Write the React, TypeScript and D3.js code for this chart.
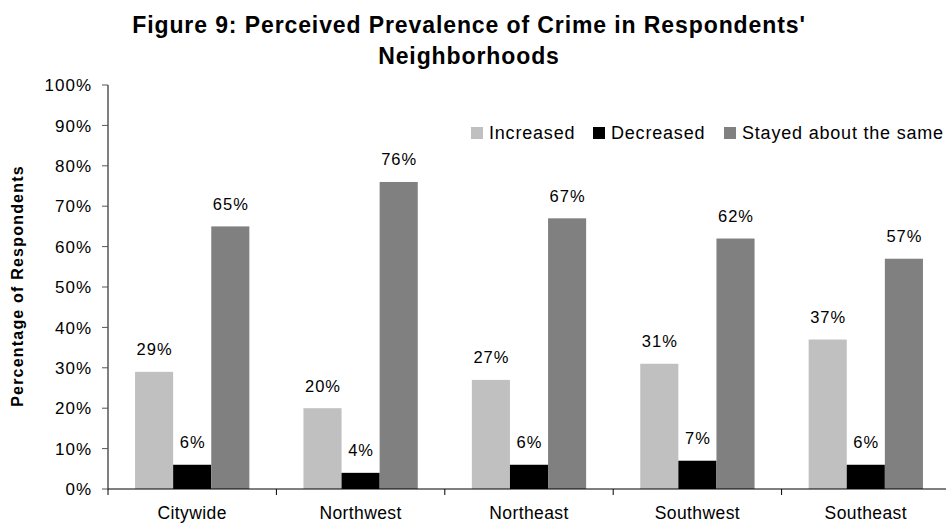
import React from "react";
import * as d3 from "d3";

const categories = ["Citywide", "Northwest", "Northeast", "Southwest", "Southeast"];
const seriesNames = ["Increased", "Decreased", "Stayed about the same"];
const increased = [29, 20, 27, 31, 37];
const decreased = [6, 4, 6, 7, 6];
const stayedSame = [65, 76, 67, 62, 57];
const yTicks = [0, 10, 20, 30, 40, 50, 60, 70, 80, 90, 100];
const titleLines = ["Figure 9: Perceived Prevalence of Crime in Respondents'", "Neighborhoods"];
const yAxisTitle = "Percentage of Respondents";

const seriesValues = [increased, decreased, stayedSame];
const seriesColors = ["#c0c0c0", "#000000", "#808080"];

const W = 946;
const H = 524;
const FONT = "'Liberation Sans', Arial, sans-serif";

export default function App() {
  const left = 108;
  const right = 950;
  const top = 85;
  const bottom = 489;

  const x = d3.scaleBand<string>().domain(categories).range([left, right]).paddingInner(0).paddingOuter(0);
  const xs = d3
    .scaleBand<string>()
    .domain(seriesNames)
    .range([0, x.bandwidth()])
    .paddingInner(0)
    .paddingOuter(0.71);
  const y = d3.scaleLinear().domain([0, 100]).range([bottom, top]);

  const boundaries = categories.map((c) => x(c) as number);
  const legendX = [471, 593, 724];

  return (
    <svg
      width={W}
      height={H}
      viewBox={`0 0 ${W} ${H}`}
      style={{ position: "absolute", left: 0, top: 0, background: "#fff" }}
      fontFamily={FONT}
    >
      {/* title */}
      {titleLines.map((t, i) => (
        <text
          key={t}
          x={469}
          y={33 + i * 31}
          textAnchor="middle"
          fontSize={23}
          fontWeight="bold"
          letterSpacing={0.9}
          fill="#000"
        >
          {t}
        </text>
      ))}

      {/* y axis title */}
      <text
        transform={`translate(23,286) rotate(-90)`}
        textAnchor="middle"
        fontSize={16}
        fontWeight="bold"
        letterSpacing={1.2}
        fill="#000"
      >
        {yAxisTitle}
      </text>

      {/* bars */}
      {seriesNames.map((s, si) =>
        categories.map((c, ci) => {
          const v = seriesValues[si][ci];
          const bx = (x(c) as number) + (xs(s) as number);
          return (
            <rect
              key={s + c}
              x={bx}
              y={y(v)}
              width={xs.bandwidth()}
              height={bottom - y(v)}
              fill={seriesColors[si]}
            />
          );
        })
      )}

      {/* value labels */}
      {seriesNames.map((s, si) =>
        categories.map((c, ci) => {
          const v = seriesValues[si][ci];
          const cx = (x(c) as number) + (xs(s) as number) + xs.bandwidth() / 2;
          return (
            <text
              key={"l" + s + c}
              x={cx + 0.5}
              y={y(v) - 16.5}
              textAnchor="middle"
              fontSize={16.5}
              letterSpacing={1}
              fill="#000"
            >
              {v}%
            </text>
          );
        })
      )}

      {/* y axis */}
      <line x1={left} x2={left} y1={top} y2={bottom} stroke="#000" strokeWidth={1} />
      {yTicks.map((t) => (
        <g key={t}>
          <line x1={left - 6} x2={left} y1={y(t)} y2={y(t)} stroke="#555" strokeWidth={1} />
          <text x={92} y={y(t)} dy="0.36em" textAnchor="end" fontSize={17} letterSpacing={1} fill="#000">
            {t}%
          </text>
        </g>
      ))}

      {/* x axis */}
      <line x1={left} x2={W} y1={bottom} y2={bottom} stroke="#000" strokeWidth={1} />
      {boundaries.map((b, i) => (
        <line key={i} x1={b} x2={b} y1={bottom} y2={bottom + 6} stroke="#000" strokeWidth={1} />
      ))}
      {categories.map((c) => (
        <text
          key={"x" + c}
          x={(x(c) as number) + x.bandwidth() / 2}
          y={519}
          textAnchor="middle"
          fontSize={17.5}
          letterSpacing={0.4}
          fill="#000"
        >
          {c}
        </text>
      ))}

      {/* legend */}
      {seriesNames.map((s, i) => (
        <g key={"lg" + s}>
          <rect x={legendX[i]} y={127} width={12} height={12} fill={seriesColors[i]} />
          <text x={legendX[i] + 18} y={138.5} fontSize={18} letterSpacing={0.8} fill="#000">
            {s}
          </text>
        </g>
      ))}
    </svg>
  );
}
